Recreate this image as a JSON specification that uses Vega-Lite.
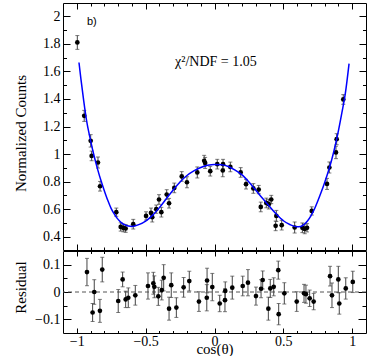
{
  "$schema": "https://vega.github.io/schema/vega-lite/v6.json",
  "padding": {"left": 12, "top": 2, "right": 8, "bottom": 0},
  "spacing": -1,
  "config": {
    "view": {"stroke": "black", "strokeWidth": 1},
    "axis": {"domain": false, "grid": false, "minExtent": 0, "offset": 0, "labelFont": "Liberation Serif", "labelFontSize": 14, "labelColor": "black", "titleFont": "Liberation Serif", "titleFontSize": 15, "titleFontWeight": "normal", "titleColor": "black", "tickColor": "black", "tickWidth": 1}
  },
  "datasets": {
    "main": [
      {"x": -0.996, "y": 1.809, "lo": 1.759, "hi": 1.859},
      {"x": -0.946, "y": 1.277, "lo": 1.237, "hi": 1.317},
      {"x": -0.899, "y": 1.096, "lo": 1.051, "hi": 1.141},
      {"x": -0.892, "y": 0.987, "lo": 0.952, "hi": 1.022},
      {"x": -0.846, "y": 0.939, "lo": 0.899, "hi": 0.979},
      {"x": -0.831, "y": 0.767, "lo": 0.732, "hi": 0.802},
      {"x": -0.713, "y": 0.579, "lo": 0.549, "hi": 0.609},
      {"x": -0.681, "y": 0.472, "lo": 0.442, "hi": 0.502},
      {"x": -0.662, "y": 0.465, "lo": 0.437, "hi": 0.493},
      {"x": -0.645, "y": 0.461, "lo": 0.433, "hi": 0.489},
      {"x": -0.590, "y": 0.492, "lo": 0.457, "hi": 0.527},
      {"x": -0.497, "y": 0.552, "lo": 0.522, "hi": 0.582},
      {"x": -0.461, "y": 0.574, "lo": 0.539, "hi": 0.609},
      {"x": -0.452, "y": 0.543, "lo": 0.508, "hi": 0.578},
      {"x": -0.423, "y": 0.601, "lo": 0.571, "hi": 0.631},
      {"x": -0.403, "y": 0.671, "lo": 0.636, "hi": 0.706},
      {"x": -0.386, "y": 0.579, "lo": 0.544, "hi": 0.614},
      {"x": -0.347, "y": 0.707, "lo": 0.672, "hi": 0.742},
      {"x": -0.330, "y": 0.644, "lo": 0.609, "hi": 0.679},
      {"x": -0.292, "y": 0.755, "lo": 0.720, "hi": 0.790},
      {"x": -0.238, "y": 0.838, "lo": 0.803, "hi": 0.873},
      {"x": -0.200, "y": 0.796, "lo": 0.756, "hi": 0.836},
      {"x": -0.125, "y": 0.867, "lo": 0.827, "hi": 0.907},
      {"x": -0.075, "y": 0.951, "lo": 0.911, "hi": 0.991},
      {"x": -0.068, "y": 0.936, "lo": 0.896, "hi": 0.976},
      {"x": -0.031, "y": 0.876, "lo": 0.841, "hi": 0.911},
      {"x": 0.020, "y": 0.927, "lo": 0.892, "hi": 0.962},
      {"x": 0.062, "y": 0.927, "lo": 0.892, "hi": 0.962},
      {"x": 0.060, "y": 0.881, "lo": 0.836, "hi": 0.926},
      {"x": 0.115, "y": 0.907, "lo": 0.872, "hi": 0.942},
      {"x": 0.190, "y": 0.867, "lo": 0.832, "hi": 0.902},
      {"x": 0.229, "y": 0.782, "lo": 0.747, "hi": 0.817},
      {"x": 0.282, "y": 0.751, "lo": 0.716, "hi": 0.786},
      {"x": 0.321, "y": 0.743, "lo": 0.713, "hi": 0.773},
      {"x": 0.336, "y": 0.617, "lo": 0.582, "hi": 0.652},
      {"x": 0.376, "y": 0.646, "lo": 0.611, "hi": 0.681},
      {"x": 0.394, "y": 0.637, "lo": 0.602, "hi": 0.672},
      {"x": 0.412, "y": 0.671, "lo": 0.641, "hi": 0.701},
      {"x": 0.449, "y": 0.552, "lo": 0.512, "hi": 0.592},
      {"x": 0.444, "y": 0.480, "lo": 0.445, "hi": 0.515},
      {"x": 0.488, "y": 0.485, "lo": 0.450, "hi": 0.520},
      {"x": 0.582, "y": 0.468, "lo": 0.428, "hi": 0.508},
      {"x": 0.638, "y": 0.466, "lo": 0.431, "hi": 0.501},
      {"x": 0.655, "y": 0.458, "lo": 0.423, "hi": 0.493},
      {"x": 0.672, "y": 0.466, "lo": 0.436, "hi": 0.496},
      {"x": 0.706, "y": 0.588, "lo": 0.558, "hi": 0.618},
      {"x": 0.817, "y": 0.784, "lo": 0.744, "hi": 0.824},
      {"x": 0.834, "y": 0.903, "lo": 0.863, "hi": 0.943},
      {"x": 0.882, "y": 1.012, "lo": 0.967, "hi": 1.057},
      {"x": 0.887, "y": 1.108, "lo": 1.068, "hi": 1.148},
      {"x": 0.935, "y": 1.396, "lo": 1.361, "hi": 1.431}
    ],
    "fit": [
      {"x": -0.984, "y": 1.664}, {"x": -0.97, "y": 1.545}, {"x": -0.95, "y": 1.39},
      {"x": -0.93, "y": 1.25}, {"x": -0.9, "y": 1.1}, {"x": -0.875, "y": 0.99},
      {"x": -0.85, "y": 0.895}, {"x": -0.825, "y": 0.81}, {"x": -0.8, "y": 0.735},
      {"x": -0.775, "y": 0.665}, {"x": -0.75, "y": 0.605}, {"x": -0.725, "y": 0.562},
      {"x": -0.7, "y": 0.527}, {"x": -0.675, "y": 0.502}, {"x": -0.65, "y": 0.487},
      {"x": -0.625, "y": 0.479}, {"x": -0.6, "y": 0.476}, {"x": -0.55, "y": 0.489},
      {"x": -0.5, "y": 0.515}, {"x": -0.45, "y": 0.556}, {"x": -0.4, "y": 0.612},
      {"x": -0.35, "y": 0.676}, {"x": -0.3, "y": 0.74}, {"x": -0.25, "y": 0.798},
      {"x": -0.2, "y": 0.845}, {"x": -0.15, "y": 0.878}, {"x": -0.1, "y": 0.903},
      {"x": -0.05, "y": 0.919}, {"x": 0.0, "y": 0.925}, {"x": 0.05, "y": 0.922},
      {"x": 0.1, "y": 0.91}, {"x": 0.15, "y": 0.884}, {"x": 0.2, "y": 0.849},
      {"x": 0.25, "y": 0.797}, {"x": 0.3, "y": 0.738}, {"x": 0.35, "y": 0.678},
      {"x": 0.4, "y": 0.62}, {"x": 0.45, "y": 0.564}, {"x": 0.5, "y": 0.517},
      {"x": 0.55, "y": 0.488}, {"x": 0.6, "y": 0.473}, {"x": 0.625, "y": 0.475},
      {"x": 0.65, "y": 0.49}, {"x": 0.675, "y": 0.515}, {"x": 0.7, "y": 0.552},
      {"x": 0.725, "y": 0.6}, {"x": 0.75, "y": 0.66}, {"x": 0.775, "y": 0.725},
      {"x": 0.8, "y": 0.795}, {"x": 0.825, "y": 0.87}, {"x": 0.85, "y": 0.955},
      {"x": 0.875, "y": 1.055}, {"x": 0.9, "y": 1.17}, {"x": 0.925, "y": 1.3},
      {"x": 0.95, "y": 1.44}, {"x": 0.977, "y": 1.656}
    ],
    "resid": [
      {"x": -0.926, "r": 0.073, "lo": 0.023, "hi": 0.123},
      {"x": -0.885, "r": -0.075, "lo": -0.108, "hi": -0.042},
      {"x": -0.873, "r": 0.0, "lo": -0.045, "hi": 0.045},
      {"x": -0.832, "r": -0.069, "lo": -0.111, "hi": -0.027},
      {"x": -0.815, "r": 0.082, "lo": 0.037, "hi": 0.127},
      {"x": -0.699, "r": -0.033, "lo": -0.075, "hi": 0.009},
      {"x": -0.667, "r": 0.046, "lo": 0.019, "hi": 0.073},
      {"x": -0.645, "r": -0.027, "lo": -0.057, "hi": 0.003},
      {"x": -0.626, "r": -0.021, "lo": -0.057, "hi": 0.015},
      {"x": -0.575, "r": -0.012, "lo": -0.048, "hi": 0.024},
      {"x": -0.483, "r": 0.022, "lo": -0.026, "hi": 0.070},
      {"x": -0.444, "r": 0.032, "lo": -0.008, "hi": 0.072},
      {"x": -0.437, "r": 0.019, "lo": -0.021, "hi": 0.059},
      {"x": -0.408, "r": -0.016, "lo": -0.049, "hi": 0.017},
      {"x": -0.383, "r": 0.007, "lo": -0.029, "hi": 0.043},
      {"x": -0.369, "r": 0.052, "lo": 0.004, "hi": 0.100},
      {"x": -0.330, "r": -0.061, "lo": -0.103, "hi": -0.019},
      {"x": -0.314, "r": 0.025, "lo": -0.020, "hi": 0.070},
      {"x": -0.277, "r": -0.057, "lo": -0.093, "hi": -0.021},
      {"x": -0.224, "r": 0.017, "lo": -0.019, "hi": 0.053},
      {"x": -0.183, "r": 0.040, "lo": 0.004, "hi": 0.076},
      {"x": -0.113, "r": -0.035, "lo": -0.071, "hi": 0.001},
      {"x": -0.054, "r": 0.042, "lo": -0.003, "hi": 0.087},
      {"x": -0.056, "r": -0.021, "lo": -0.069, "hi": 0.027},
      {"x": -0.016, "r": 0.018, "lo": -0.032, "hi": 0.068},
      {"x": 0.038, "r": -0.042, "lo": -0.072, "hi": -0.012},
      {"x": 0.076, "r": -0.030, "lo": -0.072, "hi": 0.012},
      {"x": 0.078, "r": 0.004, "lo": -0.029, "hi": 0.037},
      {"x": 0.129, "r": 0.016, "lo": -0.026, "hi": 0.058},
      {"x": 0.205, "r": 0.022, "lo": -0.014, "hi": 0.058},
      {"x": 0.243, "r": 0.034, "lo": -0.014, "hi": 0.082},
      {"x": 0.301, "r": -0.015, "lo": -0.048, "hi": 0.018},
      {"x": 0.338, "r": 0.012, "lo": -0.021, "hi": 0.045},
      {"x": 0.350, "r": 0.044, "lo": 0.011, "hi": 0.077},
      {"x": 0.391, "r": -0.061, "lo": -0.103, "hi": -0.019},
      {"x": 0.405, "r": 0.013, "lo": -0.020, "hi": 0.046},
      {"x": 0.430, "r": 0.019, "lo": -0.014, "hi": 0.052},
      {"x": 0.463, "r": 0.080, "lo": 0.047, "hi": 0.113},
      {"x": 0.466, "r": -0.081, "lo": -0.120, "hi": -0.042},
      {"x": 0.507, "r": -0.005, "lo": -0.044, "hi": 0.034},
      {"x": 0.597, "r": -0.035, "lo": -0.071, "hi": 0.001},
      {"x": 0.650, "r": -0.005, "lo": -0.038, "hi": 0.028},
      {"x": 0.664, "r": -0.008, "lo": -0.041, "hi": 0.025},
      {"x": 0.691, "r": -0.023, "lo": -0.053, "hi": 0.007},
      {"x": 0.720, "r": -0.035, "lo": -0.065, "hi": -0.005},
      {"x": 0.839, "r": 0.058, "lo": 0.022, "hi": 0.094},
      {"x": 0.853, "r": -0.012, "lo": -0.057, "hi": 0.033},
      {"x": 0.899, "r": 0.046, "lo": -0.002, "hi": 0.094},
      {"x": 0.906, "r": -0.042, "lo": -0.081, "hi": -0.003},
      {"x": 0.953, "r": 0.013, "lo": -0.026, "hi": 0.052},
      {"x": 1.004, "r": 0.037, "lo": -0.002, "hi": 0.076}
    ]
  },
  "vconcat": [
    {
      "width": 303,
      "height": 247,
      "resolve": {"axis": {"x": "independent", "y": "independent"}},
      "layer": [
        {
          "data": {"name": "main"},
          "mark": {"type": "rule", "color": "#444", "strokeWidth": 1},
          "encoding": {
            "x": {"field": "x", "type": "quantitative", "scale": {"domain": [-1.1, 1.1], "nice": false, "zero": false},
                  "axis": {"orient": "bottom", "values": [-1, -0.5, 0, 0.5, 1], "labels": false, "tickSize": -6, "title": null}},
            "y": {"field": "lo", "type": "quantitative", "scale": {"domain": [0.305, 2.095], "nice": false, "zero": false},
                  "axis": {"orient": "left", "values": [0.4, 0.6, 0.8, 1, 1.2, 1.4, 1.6, 1.8, 2], "format": "~g", "tickSize": -7, "labelPadding": 10,
                           "title": "Normalized Counts", "titleAngle": -90, "titleX": -43, "titleY": 130, "titleAlign": "center", "titleBaseline": "middle"}},
            "y2": {"field": "hi"}
          }
        },
        {
          "data": {"name": "main"},
          "mark": {"type": "tick", "orient": "horizontal", "size": 4, "thickness": 1, "color": "#444"},
          "encoding": {
            "x": {"field": "x", "type": "quantitative", "scale": {"domain": [-1.1, 1.1], "nice": false, "zero": false},
                  "axis": {"orient": "top", "values": [-1, -0.5, 0, 0.5, 1], "labels": false, "tickSize": -6, "title": null}},
            "y": {"field": "hi", "type": "quantitative",
                  "axis": {"orient": "right", "values": [0.4, 0.6, 0.8, 1, 1.2, 1.4, 1.6, 1.8, 2], "labels": false, "tickSize": -7, "title": null}}
          }
        },
        {
          "data": {"name": "main"},
          "mark": {"type": "tick", "orient": "horizontal", "size": 4, "thickness": 1, "color": "#444"},
          "encoding": {
            "x": {"field": "x", "type": "quantitative",
                  "axis": {"orient": "bottom", "values": [-0.9, -0.8, -0.7, -0.6, -0.4, -0.3, -0.2, -0.1, 0.1, 0.2, 0.3, 0.4, 0.6, 0.7, 0.8, 0.9], "labels": false, "tickSize": -3, "title": null}},
            "y": {"field": "lo", "type": "quantitative",
                  "axis": {"orient": "left", "values": [0.5, 0.7, 0.9, 1.1, 1.3, 1.5, 1.7, 1.9], "labels": false, "tickSize": -3.5, "title": null}}
          }
        },
        {
          "data": {"name": "main"},
          "mark": {"type": "circle", "size": 22, "color": "black", "opacity": 1},
          "encoding": {
            "x": {"field": "x", "type": "quantitative",
                  "axis": {"orient": "top", "values": [-0.9, -0.8, -0.7, -0.6, -0.4, -0.3, -0.2, -0.1, 0.1, 0.2, 0.3, 0.4, 0.6, 0.7, 0.8, 0.9], "labels": false, "tickSize": -3, "title": null}},
            "y": {"field": "y", "type": "quantitative",
                  "axis": {"orient": "right", "values": [0.5, 0.7, 0.9, 1.1, 1.3, 1.5, 1.7, 1.9], "labels": false, "tickSize": -3.5, "title": null}}
          }
        },
        {
          "data": {"name": "fit"},
          "mark": {"type": "line", "color": "#0000ff", "strokeWidth": 1.5, "interpolate": "monotone"},
          "encoding": {
            "x": {"field": "x", "type": "quantitative", "axis": null},
            "y": {"field": "y", "type": "quantitative", "axis": null}
          }
        },
        {
          "data": {"values": [{}]},
          "mark": {"type": "text", "text": "b)", "font": "Liberation Sans", "fontSize": 11, "align": "left", "baseline": "middle", "color": "black"},
          "encoding": {
            "x": {"datum": -0.926, "type": "quantitative", "axis": null},
            "y": {"datum": 1.958, "type": "quantitative", "axis": null}
          }
        },
        {
          "data": {"values": [{}]},
          "mark": {"type": "text", "text": "χ²/NDF = 1.05", "font": "Liberation Serif", "fontSize": 14, "align": "left", "baseline": "middle", "color": "black"},
          "encoding": {
            "x": {"datum": -0.287, "type": "quantitative", "axis": null},
            "y": {"datum": 1.664, "type": "quantitative", "axis": null}
          }
        }
      ]
    },
    {
      "width": 303,
      "height": 82,
      "resolve": {"axis": {"x": "independent", "y": "independent"}},
      "layer": [
        {
          "data": {"values": [{}]},
          "mark": {"type": "rule", "color": "#555", "strokeDash": [4, 3], "strokeWidth": 1},
          "encoding": {
            "y": {"datum": 0, "type": "quantitative", "axis": null, "scale": {"domain": [-0.15, 0.15], "nice": false, "zero": false}}
          }
        },
        {
          "data": {"name": "resid"},
          "mark": {"type": "rule", "color": "#444", "strokeWidth": 1},
          "encoding": {
            "x": {"field": "x", "type": "quantitative", "scale": {"domain": [-1.1, 1.1], "nice": false, "zero": false},
                  "axis": {"orient": "bottom", "values": [-1, -0.5, 0, 0.5, 1], "format": "~g", "tickSize": -5, "labelPadding": 6,
                           "title": "cos(θ)", "titleY": 15, "titleBaseline": "middle"}},
            "y": {"field": "lo", "type": "quantitative", "scale": {"domain": [-0.15, 0.15], "nice": false, "zero": false},
                  "axis": {"orient": "left", "values": [-0.1, 0, 0.1], "format": "~g", "tickSize": -8, "labelPadding": 11,
                           "title": "Residual", "titleAngle": -90, "titleX": -43, "titleY": 36, "titleAlign": "center", "titleBaseline": "middle"}},
            "y2": {"field": "hi"}
          }
        },
        {
          "data": {"name": "resid"},
          "mark": {"type": "tick", "orient": "horizontal", "size": 4, "thickness": 1, "color": "#444"},
          "encoding": {
            "x": {"field": "x", "type": "quantitative",
                  "axis": {"orient": "top", "values": [-1, -0.5, 0, 0.5, 1], "labels": false, "tickSize": -5, "title": null}},
            "y": {"field": "hi", "type": "quantitative",
                  "axis": {"orient": "right", "values": [-0.1, 0, 0.1], "labels": false, "tickSize": -8, "title": null}}
          }
        },
        {
          "data": {"name": "resid"},
          "mark": {"type": "tick", "orient": "horizontal", "size": 4, "thickness": 1, "color": "#444"},
          "encoding": {
            "x": {"field": "x", "type": "quantitative",
                  "axis": {"orient": "bottom", "values": [-0.9, -0.8, -0.7, -0.6, -0.4, -0.3, -0.2, -0.1, 0.1, 0.2, 0.3, 0.4, 0.6, 0.7, 0.8, 0.9], "labels": false, "tickSize": -2.5, "title": null}},
            "y": {"field": "lo", "type": "quantitative",
                  "axis": {"orient": "left", "values": [-0.05, 0.05], "labels": false, "tickSize": -4, "title": null}}
          }
        },
        {
          "data": {"name": "resid"},
          "mark": {"type": "circle", "size": 22, "color": "black", "opacity": 1},
          "encoding": {
            "x": {"field": "x", "type": "quantitative",
                  "axis": {"orient": "top", "values": [-0.9, -0.8, -0.7, -0.6, -0.4, -0.3, -0.2, -0.1, 0.1, 0.2, 0.3, 0.4, 0.6, 0.7, 0.8, 0.9], "labels": false, "tickSize": -2.5, "title": null}},
            "y": {"field": "r", "type": "quantitative",
                  "axis": {"orient": "right", "values": [-0.05, 0.05], "labels": false, "tickSize": -4, "title": null}}
          }
        }
      ]
    }
  ]
}
